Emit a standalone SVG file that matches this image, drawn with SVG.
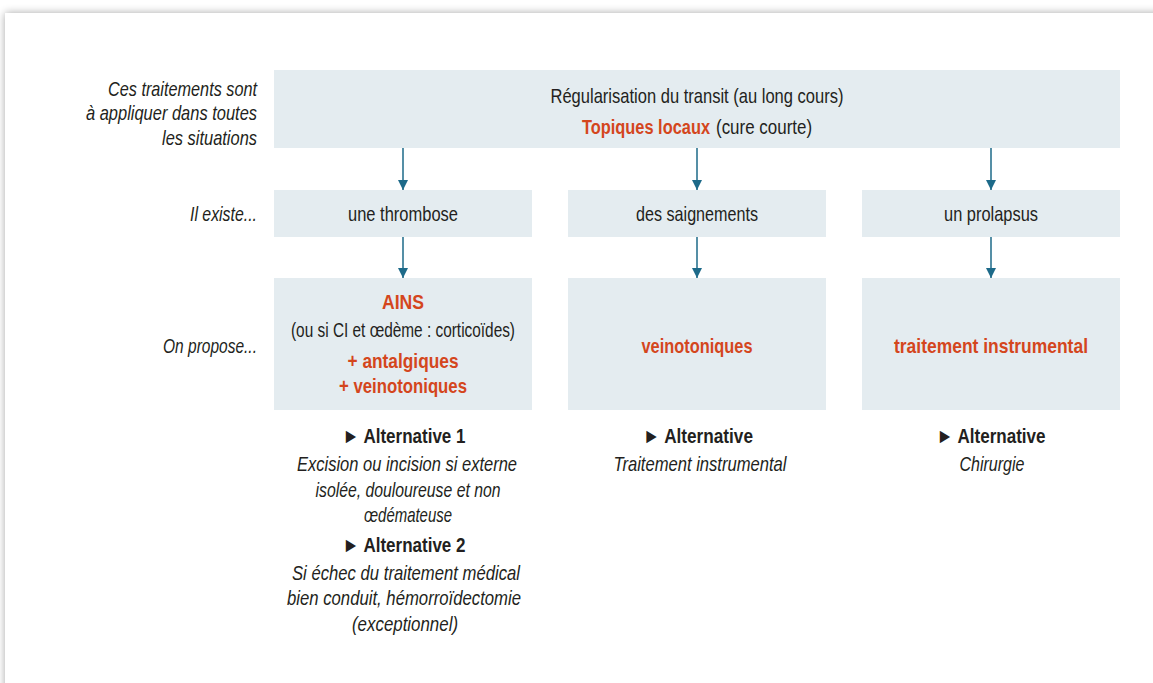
<svg xmlns="http://www.w3.org/2000/svg" width="1153" height="683" viewBox="0 0 1153 683">
<defs>
<filter id="sh" x="-5%" y="-5%" width="110%" height="110%">
<feGaussianBlur in="SourceAlpha" stdDeviation="4"/>
<feComponentTransfer><feFuncA type="linear" slope="0.35"/></feComponentTransfer>
<feMerge><feMergeNode/><feMergeNode in="SourceGraphic"/></feMerge>
</filter>
<marker id="ah" viewBox="0 0 10 10" refX="10" refY="5" markerWidth="10" markerHeight="10" markerUnits="userSpaceOnUse" orient="auto">
<path d="M0,0 L10,5 L0,10 Z" fill="#1d6a89"/>
</marker>
</defs>
<style>
text{font-family:"Liberation Sans",Arial,sans-serif;font-size:21px;fill:#231f20;text-anchor:middle}
.b{font-weight:bold}
.r{fill:#d4461d;font-weight:bold}
.i{font-style:italic}
.lbl{font-style:italic;text-anchor:end}
.box{fill:#e4ecf0}
.con{stroke:#1d6a89;stroke-width:1.5;fill:none;marker-end:url(#ah)}
</style>
<rect width="1153" height="683" fill="#ffffff"/>
<rect x="5" y="13" width="1170" height="700" fill="#ffffff" filter="url(#sh)"/>

<g id="labels">
<text class="lbl" x="257" y="96" textLength="149" lengthAdjust="spacingAndGlyphs">Ces traitements sont</text>
<text class="lbl" x="257" y="120" textLength="171" lengthAdjust="spacingAndGlyphs">à appliquer dans toutes</text>
<text class="lbl" x="257" y="145" textLength="95" lengthAdjust="spacingAndGlyphs">les situations</text>
<text class="lbl" x="257" y="221" textLength="67" lengthAdjust="spacingAndGlyphs">Il existe...</text>
<text class="lbl" x="257" y="353" textLength="94" lengthAdjust="spacingAndGlyphs">On propose...</text>
</g>

<g id="top">
<rect class="box" x="274" y="70" width="846" height="78"/>
<text x="697" y="103" textLength="293" lengthAdjust="spacingAndGlyphs">Régularisation du transit (au long cours)</text>
<text class="r" transform="translate(710,134) scale(0.78,1)" style="text-anchor:end">Topiques locaux</text>
<text transform="translate(716,134) scale(0.807,1)" style="text-anchor:start">(cure courte)</text>
</g>

<g id="thrombose">
<rect class="box" x="274" y="190" width="258" height="47"/>
<text x="403" y="221" textLength="110" lengthAdjust="spacingAndGlyphs">une thrombose</text>
</g>
<g id="saignements">
<rect class="box" x="568" y="190" width="258" height="47"/>
<text x="697" y="221" textLength="122" lengthAdjust="spacingAndGlyphs">des saignements</text>
</g>
<g id="prolapsus">
<rect class="box" x="862" y="190" width="258" height="47"/>
<text x="991" y="221" textLength="94" lengthAdjust="spacingAndGlyphs">un prolapsus</text>
</g>

<g id="ains">
<rect class="box" x="274" y="278" width="258" height="132"/>
<text class="r" x="403" y="309" textLength="42" lengthAdjust="spacingAndGlyphs">AINS</text>
<text x="403" y="337" textLength="224" lengthAdjust="spacingAndGlyphs">(ou si CI et œdème : corticoïdes)</text>
<text class="r" x="403" y="368" textLength="111" lengthAdjust="spacingAndGlyphs">+ antalgiques</text>
<text class="r" x="403" y="393" textLength="128" lengthAdjust="spacingAndGlyphs">+ veinotoniques</text>
</g>
<g id="veino">
<rect class="box" x="568" y="278" width="258" height="132"/>
<text class="r" x="697" y="353" textLength="111" lengthAdjust="spacingAndGlyphs">veinotoniques</text>
</g>
<g id="instru">
<rect class="box" x="862" y="278" width="258" height="132"/>
<text class="r" x="991" y="353" textLength="194" lengthAdjust="spacingAndGlyphs">traitement instrumental</text>
</g>

<g id="alt1">
<text class="b" x="404" y="443" textLength="123" lengthAdjust="spacingAndGlyphs">► Alternative 1</text>
<text class="i" x="407" y="471" textLength="220" lengthAdjust="spacingAndGlyphs">Excision ou incision si externe</text>
<text class="i" x="408" y="497" textLength="185" lengthAdjust="spacingAndGlyphs">isolée, douloureuse et non</text>
<text class="i" x="408" y="522" textLength="88" lengthAdjust="spacingAndGlyphs">œdémateuse</text>
<text class="b" x="404" y="552" textLength="123" lengthAdjust="spacingAndGlyphs">► Alternative 2</text>
<text class="i" x="406" y="580" textLength="228" lengthAdjust="spacingAndGlyphs">Si échec du traitement médical</text>
<text class="i" x="404" y="605" textLength="234" lengthAdjust="spacingAndGlyphs">bien conduit, hémorroïdectomie</text>
<text class="i" x="405" y="631" textLength="106" lengthAdjust="spacingAndGlyphs">(exceptionnel)</text>
</g>
<g id="alt-col2">
<text class="b" x="698" y="443" textLength="110" lengthAdjust="spacingAndGlyphs">► Alternative</text>
<text class="i" x="700" y="471" textLength="173" lengthAdjust="spacingAndGlyphs">Traitement instrumental</text>
</g>
<g id="alt-col3">
<text class="b" x="991" y="443" textLength="109" lengthAdjust="spacingAndGlyphs">► Alternative</text>
<text class="i" x="992" y="471" textLength="65" lengthAdjust="spacingAndGlyphs">Chirurgie</text>
</g>

<g id="connectors">
<line class="con" x1="403" y1="148" x2="403" y2="190"/>
<line class="con" x1="697" y1="148" x2="697" y2="190"/>
<line class="con" x1="991" y1="148" x2="991" y2="190"/>
<line class="con" x1="403" y1="237" x2="403" y2="278"/>
<line class="con" x1="697" y1="237" x2="697" y2="278"/>
<line class="con" x1="991" y1="237" x2="991" y2="278"/>
</g>
</svg>
